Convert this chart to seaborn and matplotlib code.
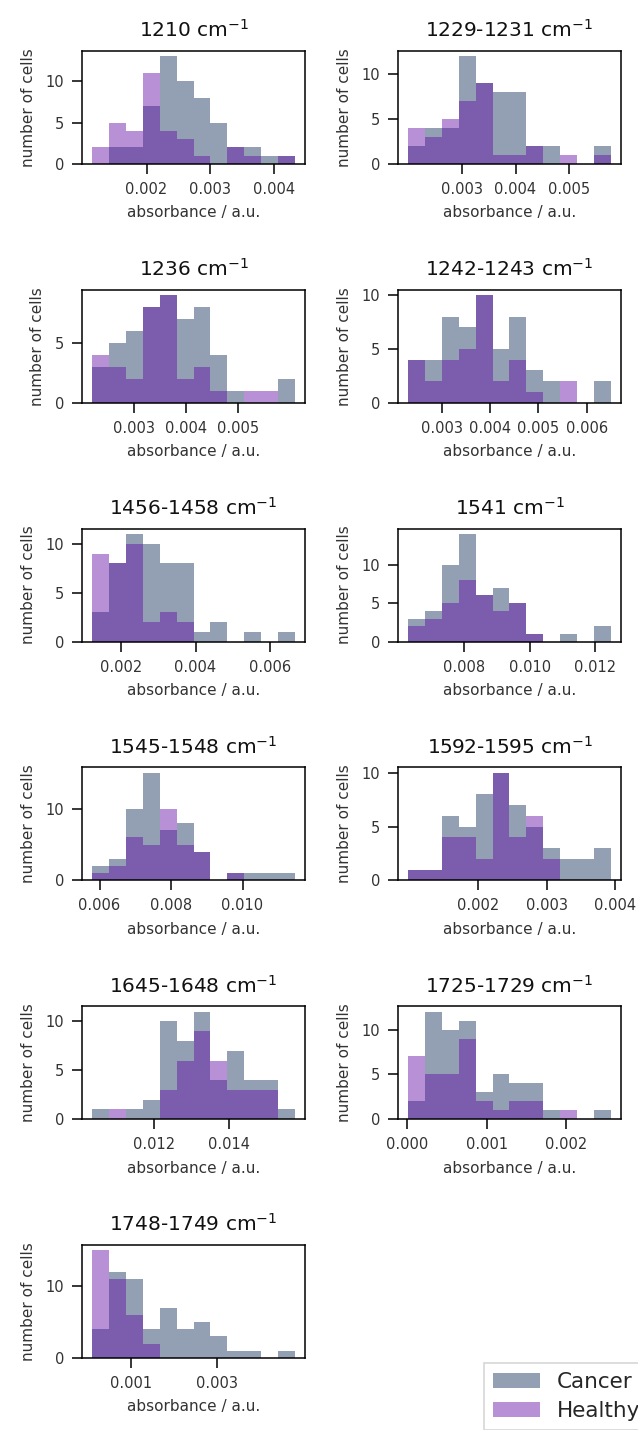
import numpy as np
import pandas as pd
import matplotlib
matplotlib.use("Agg")
import matplotlib.pyplot as plt
from matplotlib.patches import Patch
from matplotlib.ticker import FormatStrFormatter
import seaborn as sns

# band names shown as panel titles
titles = ["1210", "1229-1231", "1236", "1242-1243", "1456-1458", "1541",
          "1545-1548", "1592-1595", "1645-1648", "1725-1729", "1748-1749"]

# lower / upper edge of the 12 shared bins of every panel
bin_lo = [0.001147, 0.001981, 0.002182, 0.002309, 0.001225, 0.006306,
          0.005793, 0.000975, 0.010357, 0.00001, 0.0000938]
bin_hi = [0.004326, 0.005792, 0.006104, 0.006498, 0.006667, 0.012469,
          0.011465, 0.003941, 0.015750, 0.002568, 0.004813]

# cell counts per bin
cancer_counts = [
    [0, 2, 2, 7, 13, 10, 8, 5, 2, 2, 1, 1],
    [2, 4, 4, 12, 9, 8, 8, 2, 2, 0, 0, 2],
    [3, 5, 6, 8, 9, 7, 8, 4, 1, 0, 0, 2],
    [4, 4, 8, 7, 10, 5, 8, 3, 2, 0, 0, 2],
    [3, 8, 11, 10, 8, 8, 1, 2, 0, 1, 0, 1],
    [3, 4, 10, 14, 6, 7, 5, 1, 0, 1, 0, 2],
    [2, 3, 10, 15, 7, 8, 4, 0, 1, 1, 1, 1],
    [1, 1, 6, 5, 8, 10, 7, 5, 3, 2, 2, 3],
    [1, 0, 1, 2, 10, 8, 11, 4, 7, 4, 4, 1],
    [2, 12, 10, 11, 3, 5, 4, 4, 1, 0, 0, 1],
    [4, 12, 11, 4, 7, 4, 5, 3, 1, 1, 0, 1],
]
healthy_counts = [
    [2, 5, 4, 11, 4, 3, 1, 0, 2, 1, 0, 1],
    [4, 3, 5, 7, 9, 1, 1, 2, 0, 1, 0, 1],
    [4, 3, 2, 8, 9, 2, 3, 1, 0, 1, 1, 0],
    [4, 2, 4, 5, 10, 2, 4, 1, 0, 2, 0, 0],
    [9, 8, 10, 2, 3, 2, 0, 0, 0, 0, 0, 0],
    [2, 3, 5, 8, 6, 4, 5, 1, 0, 0, 0, 0],
    [1, 2, 6, 5, 10, 5, 4, 0, 1, 0, 0, 0],
    [1, 1, 4, 4, 2, 10, 4, 6, 2, 0, 0, 0],
    [0, 1, 0, 0, 3, 6, 9, 6, 3, 3, 3, 0],
    [7, 5, 5, 9, 2, 1, 2, 2, 0, 1, 0, 0],
    [15, 11, 6, 2, 0, 0, 0, 0, 0, 0, 0, 0],
]

x_ticks = [
    [0.002, 0.003, 0.004],
    [0.003, 0.004, 0.005],
    [0.003, 0.004, 0.005],
    [0.003, 0.004, 0.005, 0.006],
    [0.002, 0.004, 0.006],
    [0.008, 0.010, 0.012],
    [0.006, 0.008, 0.010],
    [0.002, 0.003, 0.004],
    [0.012, 0.014],
    [0.000, 0.001, 0.002],
    [0.001, 0.003],
]
y_ticks = [[0, 5, 10], [0, 5, 10], [0, 5], [0, 5, 10], [0, 5, 10], [0, 5, 10],
           [0, 10], [0, 5, 10], [0, 5, 10], [0, 5, 10], [0, 10]]

groups = ["Cancer", "Healthy"]
cancer_color = "#112c58"
healthy_color = "#610aa4"
alpha = 0.45

sns.set_theme(style="ticks")
plt.rcParams["font.family"] = ["DejaVu Sans"]
plt.rcParams["xtick.major.size"] = 7
plt.rcParams["ytick.major.size"] = 7
plt.rcParams["xtick.major.width"] = 1.1
plt.rcParams["ytick.major.width"] = 1.1
plt.rcParams["xtick.major.pad"] = 6
plt.rcParams["ytick.major.pad"] = 6
plt.rcParams["xtick.color"] = "black"
plt.rcParams["ytick.color"] = "black"
plt.rcParams["xtick.labelcolor"] = "#333333"
plt.rcParams["ytick.labelcolor"] = "#333333"

fig, axes = plt.subplots(6, 2, figsize=(6.38, 14.3), dpi=100)
fig.subplots_adjust(left=82 / 638, right=621 / 638, top=1 - 51 / 1430,
                    bottom=1 - 1358 / 1430, wspace=0.417, hspace=1.115)

for i, ax in enumerate(axes.flat[:11]):
    edges = np.linspace(bin_lo[i], bin_hi[i], 13)
    mids = (edges[:-1] + edges[1:]) / 2
    df = pd.DataFrame({"absorbance": mids,
                       "cancer": cancer_counts[i],
                       "healthy": healthy_counts[i]})
    sns.histplot(data=df, x="absorbance", weights="cancer", bins=list(edges),
                 color=cancer_color, alpha=alpha, linewidth=0, ax=ax)
    sns.histplot(data=df, x="absorbance", weights="healthy", bins=list(edges),
                 color=healthy_color, alpha=alpha, linewidth=0, ax=ax)

    ax.set_title(titles[i] + r" cm$^{-1}$", fontsize=14.5, pad=10, color="#111111")
    ax.set_xticks(x_ticks[i])
    ax.set_yticks(y_ticks[i])
    ax.xaxis.set_major_formatter(FormatStrFormatter("%.3f"))
    ax.tick_params(labelsize=10.5)
    ax.set_xlabel("absorbance / a.u.", fontsize=11, labelpad=6, color="#333333")
    ax.set_ylabel("number of cells", fontsize=11, labelpad=7, color="#333333")
    for s in ax.spines.values():
        s.set_visible(True)
        s.set_linewidth(1.1)
        s.set_color("black")

axes.flat[11].axis("off")

handles = [Patch(facecolor=cancer_color, alpha=alpha, linewidth=0),
           Patch(facecolor=healthy_color, alpha=alpha, linewidth=0)]
leg = fig.legend(handles, groups, loc="upper left",
                 bbox_to_anchor=(484 / 638, 1 - 1363 / 1430), borderaxespad=0,
                 fontsize=15.5, frameon=True, fancybox=False, edgecolor="#cccccc",
                 handlelength=2.2, handleheight=0.7, handletextpad=0.8,
                 labelspacing=0.45, borderpad=0.4)
leg.get_frame().set_linewidth(1.2)

fig.savefig("out.png", dpi=100)
